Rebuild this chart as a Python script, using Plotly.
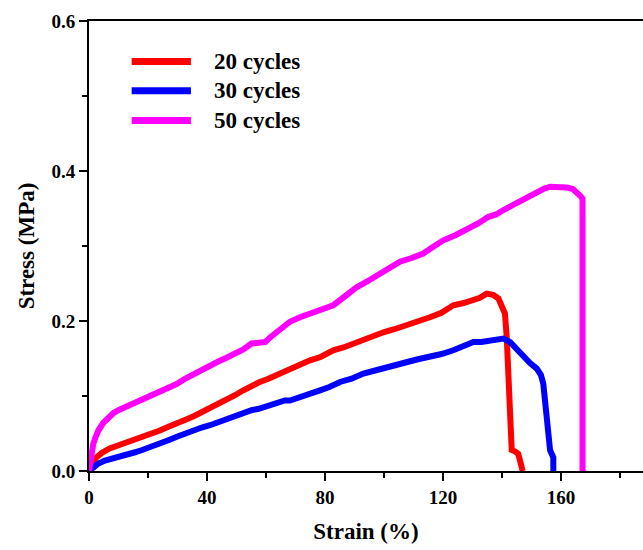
import plotly.graph_objects as go

# ---------------- data ----------------
strain_20 = [0, 0.9, 2.5, 4.3, 7.0, 9.9, 12.5, 15.6, 18.0, 21.2, 24.0, 26.9, 30.0, 32.5,
             35.5, 38.2, 41.0, 43.8, 46.5, 49.5, 52.0, 55.1, 57.5, 60.8, 63.5, 66.4,
             68.1, 71.0, 74.9, 78.5, 82.8, 86.5, 90.7, 95.0, 99.8, 103.5, 107.6, 111.5,
             115.6, 119.5, 123.5, 127.0, 130.3, 132.5, 134.8, 137.0, 138.8, 140.3,
             141.0, 141.6, 142.2, 142.7, 143.3, 144.5, 145.5, 146.1, 147.0]
stress_20 = [0, 0.010, 0.018, 0.024, 0.030, 0.034, 0.037, 0.042, 0.046, 0.050, 0.054,
             0.059, 0.063, 0.068, 0.073, 0.078, 0.084, 0.090, 0.095, 0.101, 0.107,
             0.114, 0.118, 0.123, 0.128, 0.134, 0.1365, 0.141, 0.1476, 0.152, 0.161,
             0.165, 0.172, 0.178, 0.185, 0.189, 0.194, 0.198, 0.205, 0.211, 0.221,
             0.224, 0.2276, 0.231, 0.2365, 0.235, 0.230, 0.218, 0.210, 0.179, 0.130,
             0.090, 0.028, 0.026, 0.023, 0.014, 0.0]

strain_30 = [0, 1.5, 3.2, 5.4, 7.5, 9.9, 12.5, 15.6, 18.0, 21.2, 24.0, 26.9, 30.0,
             32.5, 35.5, 38.2, 41.0, 43.8, 46.5, 49.5, 52.0, 55.1, 57.5, 60.8, 63.5,
             66.4, 68.1, 72.0, 75.0, 78.3, 81.5, 85.1, 89.0, 93.0, 97.0, 100.9, 104.0,
             107.6, 111.5, 115.6, 119.5, 123.5, 127.0, 130.3, 133.0, 135.9, 138.0,
             140.5, 142.7, 145.0, 147.2, 149.5, 151.8, 153.2, 154.0, 154.6, 155.1,
             155.7, 156.3, 157.4, 157.4]
stress_30 = [0, 0.005, 0.010, 0.014, 0.016, 0.018, 0.021, 0.025, 0.028, 0.032, 0.036,
             0.041, 0.046, 0.050, 0.054, 0.058, 0.061, 0.065, 0.069, 0.074, 0.077,
             0.081, 0.083, 0.0876, 0.091, 0.094, 0.094, 0.100, 0.103, 0.1076, 0.112,
             0.1187, 0.123, 0.130, 0.134, 0.1387, 0.141, 0.145, 0.149, 0.152, 0.156,
             0.161, 0.166, 0.172, 0.172, 0.173, 0.175, 0.1765, 0.172, 0.162, 0.152,
             0.144, 0.1365, 0.128, 0.1165, 0.095, 0.072, 0.050, 0.0276, 0.018, 0.0]

strain_50 = [0, 0.34, 0.8, 1.47, 2.2, 3.16, 4.8, 6.55, 8.2, 9.94, 12.8, 15.6, 18.4,
             21.2, 24.0, 26.9, 29.7, 32.5, 35.3, 38.2, 41.0, 43.8, 46.6, 49.5, 52.3,
             55.1, 57.4, 59.7, 62.0, 64.2, 66.4, 68.1, 71.5, 74.9, 78.8, 82.8, 86.8,
             90.7, 94.0, 97.5, 101.5, 105.4, 109.4, 113.3, 116.7, 120.1, 124.0, 128.0,
             131.9, 135.4, 138.0, 140.5, 143.3, 146.1, 149.0, 151.8, 154.0, 156.3,
             159.0, 162.0, 164.0, 165.4, 166.5, 167.3, 167.3]
stress_50 = [0, 0.0099, 0.024, 0.0365, 0.045, 0.054, 0.064, 0.072, 0.077, 0.081, 0.086,
             0.0907, 0.095, 0.100, 0.104, 0.110, 0.116, 0.123, 0.129, 0.1356, 0.141,
             0.146, 0.151, 0.1565, 0.162, 0.170, 0.172, 0.172, 0.180, 0.1876, 0.193,
             0.199, 0.205, 0.210, 0.214, 0.221, 0.233, 0.245, 0.252, 0.261, 0.270,
             0.279, 0.284, 0.290, 0.299, 0.3076, 0.314, 0.321, 0.330, 0.339, 0.342,
             0.348, 0.354, 0.361, 0.366, 0.372, 0.376, 0.379, 0.379, 0.378, 0.376,
             0.372, 0.367, 0.363, 0.0]

series_names = ["20 cycles", "30 cycles", "50 cycles"]
series_colors = ["#ff0000", "#0000ff", "#ff00ff"]

x_ticks = [0, 40, 80, 120, 160]
y_ticks = [0.0, 0.2, 0.4, 0.6]
y_tick_text = ["0.0", "0.2", "0.4", "0.6"]

# ---------------- figure ----------------
FONT = "Liberation Serif, Times New Roman, serif"

fig = go.Figure()
for sx, sy, name, col in zip([strain_20, strain_30, strain_50],
                             [stress_20, stress_30, stress_50],
                             series_names, series_colors):
    fig.add_trace(go.Scatter(x=sx, y=sy, mode="lines", name=name,
                             line=dict(color=col, width=6, shape="linear"),
                             showlegend=False))

# custom legend (long keys like the reference)
leg_y = [0.910, 0.845, 0.779]
for name, col, yy in zip(series_names, series_colors, leg_y):
    fig.add_shape(type="line", xref="paper", yref="paper",
                  x0=0.077, x1=0.184, y0=yy, y1=yy,
                  line=dict(color=col, width=7))
    fig.add_annotation(xref="paper", yref="paper", x=0.2215, y=yy,
                       text=name, showarrow=False, xanchor="left", yanchor="middle",
                       font=dict(family=FONT, size=23, color="black", weight="bold"))

fig.update_layout(
    width=643, height=550,
    margin=dict(l=89, r=0, t=21, b=79, pad=0),
    paper_bgcolor="white", plot_bgcolor="white",
    font=dict(family=FONT, color="black", weight="bold"),
)
fig.update_xaxes(
    range=[0, 187.8], tickvals=x_ticks, ticks="outside", ticklen=8, tickwidth=2,
    tickcolor="black", showline=True, linecolor="black", linewidth=2, mirror=True,
    showgrid=False, zeroline=False,
    tickfont=dict(family=FONT, size=19, color="black", weight="bold"),
    minor=dict(dtick=20, tick0=0, ticks="outside", ticklen=5, tickwidth=2, tickcolor="black", showgrid=False),
    title=dict(text="Strain (%)", font=dict(family=FONT, size=23, color="black", weight="bold"),
               standoff=16),
)
fig.update_yaxes(
    range=[0, 0.6], tickvals=y_ticks, ticktext=y_tick_text, ticks="outside", ticklen=8,
    tickwidth=2, tickcolor="black", showline=True, linecolor="black", linewidth=2,
    mirror=False, showgrid=False, zeroline=False,
    tickfont=dict(family=FONT, size=19, color="black", weight="bold"),
    minor=dict(dtick=0.1, tick0=0, ticks="outside", ticklen=5, tickwidth=2, tickcolor="black", showgrid=False),
    title=dict(text="Stress (MPa)", font=dict(family=FONT, size=23, color="black", weight="bold"),
               standoff=10),
)

fig.write_html("out.html")
